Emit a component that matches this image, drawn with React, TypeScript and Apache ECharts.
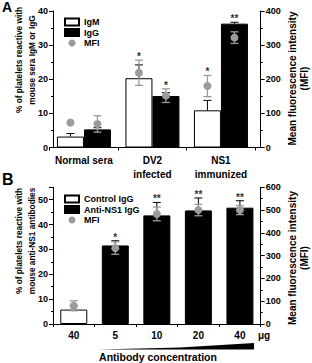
import React, { useEffect, useRef } from 'react';
import * as echarts from 'echarts';

// ---------- Panel A data ----------
const groupsA = ['Normal sera', 'DV2\ninfected', 'NS1\nimmunized'];
const igmA = [3.2, 20.3, 10.9];
const igmErrA = [0.9, 3.9, 2.9];
const iggA = [5.3, 15.1, 36.3];
const iggErrA = [0.5, 1.0, 0.4];
const mfiIgmA = [73, 219, 180];
const mfiIgmErrA = [0, 37, 31];
const mfiIggA = [69, 152, 322];
const mfiIggErrA = [24, 20, 17];
const starsIgmA = ['', '*', '*'];
const starsIggA = ['', '*', '**'];

// ---------- Panel B data ----------
const dosesB = ['40', '5', '10', '20', '40'];
const controlB = [5.8, null, null, null, null];
const antiB = [null, 31.6, 43.7, 45.7, 46.8];
const barErrB = [1.5, 1.9, 5.2, 5.0, 2.8];
const mfiB = [80, 333, 483, 500, 500];
const mfiErrB = [22, 27, 30, 25, 20];
const starsB = ['', '*', '**', '**', '**'];

const FONT = '"Liberation Sans", Arial, Helvetica, sans-serif';
const GRAY = '#9b9b9b';
const OFF_A = 13.5;

function mfiRender(off: number) {
  return (params: any, api: any) => {
    const c = api.value(0), v = api.value(1), e = api.value(2), s = api.value(3);
    const p = api.coord([c, v]);
    const x = p[0] + s * off;
    const children: any[] = [];
    const st = { stroke: GRAY, lineWidth: 1.3 };
    if (e > 0) {
      const t = api.coord([c, v + e])[1];
      const b = api.coord([c, v - e])[1];
      children.push({ type: 'line', shape: { x1: x, y1: t, x2: x, y2: b }, style: st });
      children.push({ type: 'line', shape: { x1: x - 4, y1: t, x2: x + 4, y2: t }, style: st });
      children.push({ type: 'line', shape: { x1: x - 4, y1: b, x2: x + 4, y2: b }, style: st });
    }
    children.push({ type: 'circle', shape: { cx: x, cy: p[1], r: 4 }, style: { fill: GRAY } });
    return { type: 'group', children };
  };
}

function barErrRender(off: number, stars: string[]) {
  return (params: any, api: any) => {
    const c = api.value(0), v = api.value(1), e = api.value(2), s = api.value(3), top = api.value(4);
    const p0 = api.coord([c, v]);
    const x = p0[0] + s * off;
    const y1 = api.coord([c, v + e])[1];
    const ys = api.coord([c, Math.max(v + e, top)])[1];
    const st = { stroke: '#000', lineWidth: 1 };
    const children: any[] = [
      { type: 'line', shape: { x1: x, y1: p0[1], x2: x, y2: y1 }, style: st },
      { type: 'line', shape: { x1: x - 4, y1: y1, x2: x + 4, y2: y1 }, style: st },
    ];
    const txt = stars[params.dataIndex];
    if (txt) {
      children.push({
        type: 'text',
        style: { text: txt, x, y: ys - 3.5, align: 'center', verticalAlign: 'middle', font: `bold 10px ${FONT}`, fill: '#333' },
      });
    }
    return { type: 'group', children };
  };
}

export default function App() {
  const ref = useRef<HTMLDivElement>(null);
  useEffect(() => {
    document.body.style.margin = '0';
    const chart = echarts.init(ref.current!, null, { renderer: 'svg' });

    const ratioA = 40 / 400;
    const ratioB = 55 / 600;

    const igmErrData = groupsA.map((_, i) => [i, igmA[i], igmErrA[i], -1, (mfiIgmA[i] + mfiIgmErrA[i]) * ratioA]);
    const iggErrData = groupsA.map((_, i) => [i, iggA[i], iggErrA[i], 1, (mfiIggA[i] + mfiIggErrA[i]) * ratioA]);
    const mfiDataA: any[] = [];
    groupsA.forEach((_, i) => {
      mfiDataA.push([i, mfiIgmA[i], mfiIgmErrA[i], -1]);
      mfiDataA.push([i, mfiIggA[i], mfiIggErrA[i], 1]);
    });
    const barsB = dosesB.map((_, i) => (controlB[i] ?? antiB[i]) as number);
    const barErrDataB = dosesB.map((_, i) => [i, barsB[i], barErrB[i], 0, (mfiB[i] + mfiErrB[i]) * ratioB]);
    const mfiDataB = dosesB.map((_, i) => [i, mfiB[i], mfiErrB[i], 0]);

    const tickLabel = { fontSize: 9, fontWeight: 'bold', fontFamily: FONT, color: '#000' };
    const axLine = { show: true, lineStyle: { color: '#000', width: 1 } };
    const axTick = { show: true, length: 4, lineStyle: { color: '#000', width: 1 } };
    const minor = { show: true, splitNumber: 2, length: 2, lineStyle: { color: '#000', width: 1 } };
    const legendText = { fontSize: 9, fontWeight: 'bold', fontFamily: FONT, color: '#000' };

    chart.setOption({
      animation: false,
      grid: [
        { left: 49.7, width: 205.5, top: 11, height: 136.5 },
        { left: 53, width: 207.7, top: 11, height: 136.5 },
        { left: 53, width: 207.7, top: 187.3, height: 136.7 },
      ],
      xAxis: [
        {
          gridIndex: 0, type: 'category', data: groupsA,
          axisLine: { show: false }, axisTick: { show: true, length: 3, lineStyle: { color: '#000' } },
          axisLabel: { interval: 0, fontSize: 10, fontWeight: 'bold', fontFamily: FONT, color: '#000', margin: 6, lineHeight: 14 },
        },
        {
          gridIndex: 1, type: 'value', min: 0, max: 1,
          axisLine: axLine, axisTick: { show: false }, axisLabel: { show: false }, splitLine: { show: false },
        },
        {
          gridIndex: 2, type: 'category', data: dosesB,
          axisLine: axLine, axisTick: { show: true, length: 3, lineStyle: { color: '#000' } },
          axisLabel: { interval: 0, fontSize: 10, fontWeight: 'bold', fontFamily: FONT, color: '#000', margin: 6 },
        },
      ],
      yAxis: [
        {
          gridIndex: 0, type: 'value', min: 0, max: 40, interval: 10, offset: -3.3,
          axisLine: axLine, axisTick: axTick, minorTick: minor, splitLine: { show: false },
          axisLabel: { ...tickLabel, margin: 5 },
        },
        {
          gridIndex: 0, type: 'value', position: 'right', min: 0, max: 400, interval: 100, offset: 5.5,
          axisLine: axLine, axisTick: axTick, minorTick: minor, splitLine: { show: false },
          axisLabel: { ...tickLabel, margin: 5 },
        },
        { gridIndex: 1, type: 'value', show: false, min: 0, max: 1 },
        {
          gridIndex: 2, type: 'value', min: 0, max: 55, interval: 10,
          axisLine: axLine, axisTick: axTick, minorTick: minor, splitLine: { show: false },
          axisLabel: { ...tickLabel, margin: 5, formatter: (v: number) => (v % 10 === 0 ? String(v) : '') },
        },
        {
          gridIndex: 2, type: 'value', position: 'right', min: 0, max: 600, interval: 100,
          axisLine: axLine, axisTick: axTick, minorTick: minor, splitLine: { show: false },
          axisLabel: { ...tickLabel, margin: 5 },
        },
      ],
      legend: [
        {
          orient: 'vertical', left: 64, top: 17.5, padding: 0, itemWidth: 14, itemHeight: 7, itemGap: 1.5,
          textStyle: legendText,
          data: [{ name: 'IgM', icon: 'rect' }, { name: 'IgG', icon: 'rect' }, { name: 'MFI', icon: 'circle' }],
        },
        {
          orient: 'vertical', left: 64, top: 194.5, padding: 0, itemWidth: 14, itemHeight: 7, itemGap: 1.5,
          textStyle: legendText,
          data: [{ name: 'Control IgG', icon: 'rect' }, { name: 'Anti-NS1 IgG', icon: 'rect' }, { name: 'MFI', icon: 'circle' }],
        },
      ],
      series: [
        {
          name: 'IgM', type: 'bar', xAxisIndex: 0, yAxisIndex: 0, data: igmA, barWidth: 27, barGap: '0%',
          itemStyle: { color: '#fff', borderColor: '#000', borderWidth: 1 }, z: 2,
        },
        {
          name: 'IgG', type: 'bar', xAxisIndex: 0, yAxisIndex: 0, data: iggA, barWidth: 27, barGap: '0%',
          itemStyle: { color: '#000', borderColor: '#000', borderWidth: 1 }, z: 2,
        },
        {
          name: 'errIgM', type: 'custom', xAxisIndex: 0, yAxisIndex: 0, data: igmErrData,
          renderItem: barErrRender(OFF_A, starsIgmA), z: 3, silent: true,
        },
        {
          name: 'errIgG', type: 'custom', xAxisIndex: 0, yAxisIndex: 0, data: iggErrData,
          renderItem: barErrRender(OFF_A, starsIggA), z: 3, silent: true,
        },
        {
          name: 'MFI', type: 'custom', xAxisIndex: 0, yAxisIndex: 1, data: mfiDataA,
          renderItem: mfiRender(OFF_A), itemStyle: { color: GRAY }, z: 4, silent: true,
        },
        {
          name: 'Control IgG', type: 'bar', xAxisIndex: 2, yAxisIndex: 3, data: controlB, barWidth: 27, barGap: '-100%',
          itemStyle: { color: '#fff', borderColor: '#000', borderWidth: 1 }, z: 2,
        },
        {
          name: 'Anti-NS1 IgG', type: 'bar', xAxisIndex: 2, yAxisIndex: 3, data: antiB, barWidth: 27, barGap: '-100%',
          itemStyle: { color: '#000', borderColor: '#000', borderWidth: 1 }, z: 2,
        },
        {
          name: 'errB', type: 'custom', xAxisIndex: 2, yAxisIndex: 3, data: barErrDataB,
          renderItem: barErrRender(0, starsB), z: 3, silent: true,
        },
        {
          name: 'MFI', type: 'custom', xAxisIndex: 2, yAxisIndex: 4, data: mfiDataB,
          renderItem: mfiRender(0), itemStyle: { color: GRAY }, z: 4, silent: true,
        },
      ],
      graphic: [
        { type: 'text', x: 2, y: 0, style: { text: 'A', font: `bold 14px ${FONT}`, fill: '#000', align: 'left', verticalAlign: 'top' } },
        { type: 'text', x: 2, y: 171, style: { text: 'B', font: `bold 16px ${FONT}`, fill: '#000', align: 'left', verticalAlign: 'top' } },
        {
          type: 'text', x: 25, y: 60, rotation: Math.PI / 2,
          style: { text: '% of platelets reactive with\nmouse sera IgM or IgG', font: `bold 8.3px ${FONT}`, lineHeight: 13, fill: '#000', align: 'center', verticalAlign: 'middle' },
        },
        {
          type: 'text', x: 298.5, y: 78.5, rotation: Math.PI / 2,
          style: { text: 'Mean fluorescence intensity\n(MFI)', font: `bold 10px ${FONT}`, lineHeight: 12, fill: '#000', align: 'center', verticalAlign: 'middle' },
        },
        {
          type: 'text', x: 25, y: 241, rotation: Math.PI / 2,
          style: { text: '% of platelets reactive with\nmouse anti-NS1 antibodies', font: `bold 8.3px ${FONT}`, lineHeight: 13, fill: '#000', align: 'center', verticalAlign: 'middle' },
        },
        {
          type: 'text', x: 298.5, y: 258, rotation: Math.PI / 2,
          style: { text: 'Mean fluorescence intensity\n(MFI)', font: `bold 10px ${FONT}`, lineHeight: 12, fill: '#000', align: 'center', verticalAlign: 'middle' },
        },
        { type: 'text', x: 258, y: 335.5, style: { text: 'μg', font: `bold 10px ${FONT}`, fill: '#000', align: 'left', verticalAlign: 'middle' } },
        { type: 'polygon', shape: { points: [[98, 349.5], [180, 347.5], [254, 343], [254, 349.5]] }, style: { fill: '#000' } },
        { type: 'text', x: 158, y: 351, style: { text: 'Antibody concentration', font: `bold 10.5px ${FONT}`, fill: '#000', align: 'center', verticalAlign: 'top' } },
      ],
    });
    return () => chart.dispose();
  }, []);
  return <div ref={ref} style={{ width: 312, height: 363 }} />;
}
